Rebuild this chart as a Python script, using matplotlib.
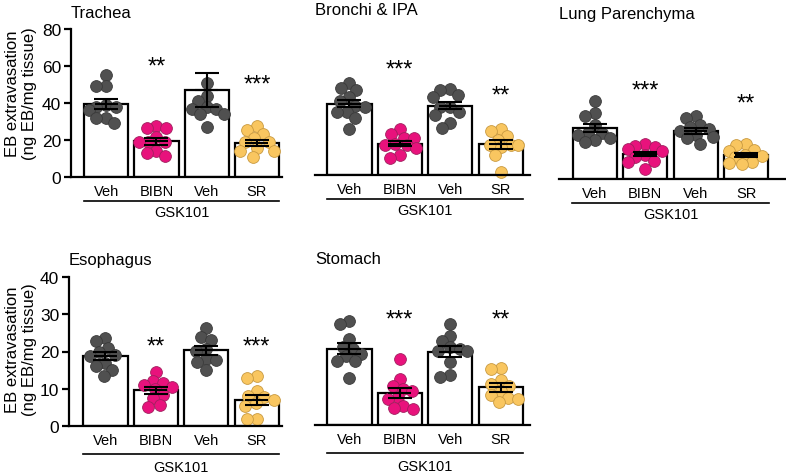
import numpy as np
import matplotlib
matplotlib.use("Agg")
import matplotlib.pyplot as plt

plt.rcParams["font.family"] = ["Liberation Sans", "DejaVu Sans"]

W, H = 786, 477
GROUPS = ["Veh", "BIBN", "Veh", "SR"]
FILLS = ["#505050", "#E8127C", "#505050", "#F9C660"]
EDGES = ["#3a3a3a", "#a0205e", "#3a3a3a", "#c99a40"]

# --- data (ng EB / mg tissue) ---
trachea_pts = [[55, 49, 49, 39, 38, 36, 38, 32, 32, 29],
               [27.4, 26.3, 26.3, 21.4, 18.7, 18.7, 18.7, 14.2, 13, 11.5],
               [51, 44, 41, 38, 37, 37, 34, 34, 27],
               [27.4, 25.6, 23.2, 20.9, 18.7, 18.7, 15.5, 14.2, 14.2, 10.6]]
trachea_mean = [39.5, 19.3, 47, 18.5]
trachea_sem = [2.5, 2.0, 9.0, 1.5]
trachea_stars = ["", "**", "", "***"]
trachea_star_y = [0, 62, 0, 52]

bronchi_pts = [[50, 47, 46, 42, 40, 37.5, 37, 34, 34, 30.6, 24.7],
               [25, 22, 20, 20, 17, 16, 16, 14.4, 10.8, 9],
               [46.5, 46, 43, 42.3, 37, 37, 34, 32.4, 28, 25.2],
               [25, 24, 21, 19, 16, 16, 16, 15, 11, 1.5]]
bronchi_mean = [38.5, 17, 37.5, 16.5]
bronchi_sem = [2.0, 1.3, 2.0, 2.3]
bronchi_stars = ["", "***", "", "**"]
bronchi_star_y = [0, 59, 0, 45]

lung_pts = [[42, 35.5, 34, 29, 25, 25, 24, 22, 21, 20],
            [19, 18, 17.5, 16, 15, 13, 12, 10, 9, 5.4],
            [34, 33, 29, 28, 27, 26, 24, 22.5, 22, 19],
            [19, 18.5, 15.5, 15, 13, 12.5, 12, 9, 8.5, 8]]
lung_mean = [27.5, 13.5, 26, 13]
lung_sem = [2.2, 1.2, 1.7, 1.2]
lung_stars = ["", "***", "", "**"]
lung_star_y = [0, 50, 0, 43]

esoph_pts = [[23.6, 22.7, 21, 20, 19, 18.7, 17, 16, 15, 13.4],
             [14.6, 12, 11.6, 11, 10.4, 10, 8.2, 7.4, 5.6, 5],
             [26.3, 24, 23.2, 20.7, 20.2, 18, 17.8, 17.3, 14.9],
             [13.4, 13, 9.5, 8, 7.7, 7, 6.2, 5.5, 2, 2]]
esoph_mean = [18.7, 9.6, 20.3, 7.0]
esoph_sem = [1.1, 1.0, 1.2, 1.3]
esoph_stars = ["", "**", "", "***"]
esoph_star_y = [0, 22.5, 0, 22.5]

stomach_pts = [[27.8, 27.2, 23, 21, 20.5, 19, 18.5, 17.3, 17.3, 12.5],
               [17.6, 12.4, 10.4, 9.7, 9, 7.4, 7, 5.2, 4.5, 4.3],
               [27.2, 23.8, 22.5, 21, 20.4, 20, 20, 16.8, 13.3, 12.8],
               [15.2, 14.9, 12, 11, 10.5, 9, 8.1, 7.2, 7, 6.1]]
stomach_mean = [20.5, 8.6, 19.7, 10.1]
stomach_sem = [1.5, 1.4, 1.4, 1.3]
stomach_stars = ["", "***", "", "**"]
stomach_star_y = [0, 29.5, 0, 29.5]


def box(left, right, base, top):
    return [left / W, 1 - base / H, (right - left) / W, (base - top) / H]


def swarm(ax, x0, vals, d, maxw=17.0):
    # simple beeswarm in pixel space, nearest free spot to the bar centre,
    # kept inside the bar; falls back to least overlap when no room
    pts = ax.transData.transform(np.column_stack([np.full(len(vals), x0), vals]))
    cx = pts[0, 0]
    placed = []
    for px, py in pts[np.argsort(-pts[:, 1])]:
        cands = [cx]
        for qx, qy in placed:
            dy = py - qy
            if abs(dy) < d:
                dx = np.sqrt(d * d - dy * dy)
                cands += [qx - dx, qx + dx]
        cands = [c for c in cands if abs(c - cx) <= maxw + 1e-6]
        cands += [cx - maxw, cx + maxw]
        cands.sort(key=lambda c: abs(c - cx))
        best, best_ov = None, None
        for c in cands:
            ov = sum(max(0.0, d * d - (c - qx) ** 2 - (py - qy) ** 2) for qx, qy in placed)
            if ov < 1e-6:
                best = c
                break
            if best_ov is None or ov < best_ov:
                best, best_ov = c, ov
        placed.append((best, py))
    return ax.transData.inverted().transform(np.array(placed))


def panel(fig, rect, xlim, ymax, yticks, title, pts, means, sems, stars, star_y,
          show_y, line_y, text_y):
    ax = fig.add_axes(rect)
    ax.set_xlim(*xlim); ax.set_ylim(0, ymax)
    for s in ["top", "right"]:
        ax.spines[s].set_visible(False)
    ax.spines["bottom"].set_linewidth(1.6)
    if show_y:
        ax.spines["left"].set_linewidth(1.6)
        ax.set_yticks(yticks)
        ax.tick_params(axis="y", length=5, width=1.6, labelsize=12.5, pad=2)
    else:
        ax.spines["left"].set_visible(False)
        ax.set_yticks([])
    x = np.arange(4)
    ax.bar(x, means, width=0.88, color="white", edgecolor="black", linewidth=1.6, zorder=1)
    for i in range(4):
        xy = swarm(ax, i, pts[i], 10.0)
        ax.scatter(xy[:, 0], xy[:, 1], s=72, color=FILLS[i], edgecolor=EDGES[i],
                   linewidth=0.6, zorder=2, clip_on=False)
        ax.errorbar(i, means[i], yerr=sems[i], color="black", lw=1.5, capsize=8.3,
                    capthick=1.5, zorder=3)
        ax.hlines(means[i], i - 0.23, i + 0.23, color="black", lw=1.5, zorder=3)
        if stars[i]:
            ax.annotate(stars[i], (i, star_y[i]), xytext=(0, -3), textcoords="offset points",
                        ha="center", va="center", fontsize=17)
    ax.set_xticks(x)
    ax.set_xticklabels(GROUPS, fontsize=10.5)
    ax.tick_params(axis="x", length=0, pad=5)
    tr = ax.get_xaxis_transform()
    ax.plot([-0.45, 3.45], [line_y, line_y], color="black", lw=1.2, transform=tr, clip_on=False)
    ax.text(1.5, text_y, "GSK101", ha="center", va="center", fontsize=10.5, transform=tr)
    ax.set_title(title, loc="left", fontsize=12, pad=9)
    return ax


fig = plt.figure(figsize=(W / 100, H / 100), dpi=100)

top_line, top_text = -0.162, -0.236
bot_line, bot_text = -0.188, -0.275
panel(fig, box(71, 282, 178, 30), (-0.7, 3.5), 80, [0, 20, 40, 60, 80], "Trachea",
      trachea_pts, trachea_mean, trachea_sem, trachea_stars, trachea_star_y, True, top_line, top_text)
panel(fig, box(315, 530, 176, 28), (-0.68, 3.58), 80, [], "Bronchi & IPA",
      bronchi_pts, bronchi_mean, bronchi_sem, bronchi_stars, bronchi_star_y, False, top_line, top_text)
panel(fig, box(559, 786, 180, 32), (-0.71, 3.79), 80, [], "Lung Parenchyma",
      lung_pts, lung_mean, lung_sem, lung_stars, lung_star_y, False, top_line, top_text)
panel(fig, box(69, 282, 427, 278), (-0.72, 3.5), 40, [0, 10, 20, 30, 40], "Esophagus",
      esoph_pts, esoph_mean, esoph_sem, esoph_stars, esoph_star_y, True, bot_line, bot_text)
panel(fig, box(315, 530, 426, 277), (-0.68, 3.58), 40, [], "Stomach",
      stomach_pts, stomach_mean, stomach_sem, stomach_stars, stomach_star_y, False, bot_line, bot_text)

ylab = "EB extravasation\n(ng EB/mg tissue)"
for yc in (94, 350):
    fig.text(21 / W, 1 - yc / H, ylab, rotation=90, ha="center", va="center",
             multialignment="center", fontsize=12)

fig.savefig("out.png", dpi=100, facecolor="white")
